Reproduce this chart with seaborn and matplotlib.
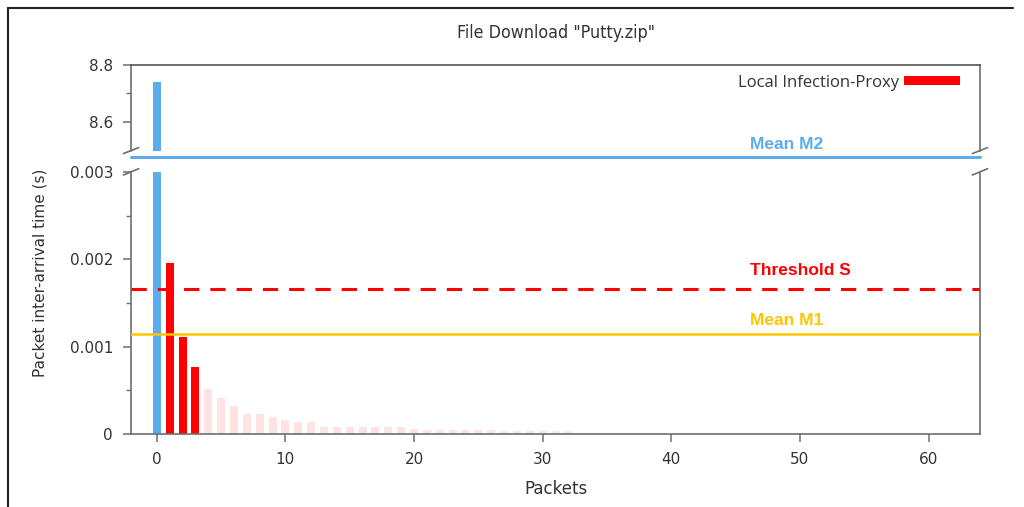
import matplotlib
matplotlib.use("Agg")
import matplotlib.pyplot as plt
import pandas as pd
import seaborn as sns
from matplotlib.patches import Patch
from matplotlib.lines import Line2D

# ---------------- data ----------------
packets = list(range(0, 33))
inter_arrival = [
    8.74, 0.00196, 0.00111, 0.00077, 0.00051, 0.00041, 0.00032, 0.00023,
    0.00023, 0.00019, 0.000165, 0.00014, 0.00014, 0.000085, 0.000085, 0.000085,
    0.000085, 0.000085, 0.000085, 0.000085, 0.00006, 0.00004, 0.00004, 0.00004,
    0.00004, 0.00004, 0.00004, 0.00003, 0.00003, 0.00003, 0.00003, 0.00003,
    0.00003,
]
groups = ["First"] + ["Local Infection-Proxy"] * 3 + ["Rest"] * 29
group_colors = {"First": "#5DADEC", "Local Infection-Proxy": "#FF0000", "Rest": "#FFE2E2"}

mean_m2 = 8.477
threshold_s = 0.00166
mean_m1 = 0.00115
line_labels = ["Mean M2", "Threshold S", "Mean M1"]
label_x = 46.1

title = 'File Download "Putty.zip"'
xlabel = "Packets"
ylabel = "Packet inter-arrival time (s)"
legend_label = "Local Infection-Proxy"

top_ylim = (8.5, 8.8)
top_yticks = [8.6, 8.8]
bottom_ylim = (0, 0.003)
bottom_yticks = [0, 0.001, 0.002, 0.003]
bottom_yticklabels = ["0", "0.001", "0.002", "0.003"]
xticks = [0, 10, 20, 30, 40, 50, 60]
xlim = (-2, 64)

df = pd.DataFrame({"packet": packets, "iat": inter_arrival, "group": groups})

# ---------------- style ----------------
sns.set_style("ticks")
plt.rcParams["font.family"] = ["DejaVu Sans"]
spine_col = "#6e6e6e"
text_col = "#333333"

fig = plt.figure(figsize=(10.24, 5.07), dpi=100)
L, R = 0.128, 0.957
ax_top = fig.add_axes([L, 0.703, R - L, 0.872 - 0.703])
ax_bot = fig.add_axes([L, 0.144, R - L, 0.661 - 0.144])

for ax in (ax_top, ax_bot):
    sns.barplot(data=df, x="packet", y="iat", hue="group", palette=group_colors,
                native_scale=True, dodge=False, width=0.62, saturation=1,
                errorbar=None, legend=False, linewidth=0, ax=ax, zorder=2)
    ax.set_xlim(*xlim)
    for s in ax.spines.values():
        s.set_color(spine_col)
        s.set_linewidth(1.2)
    ax.tick_params(colors=spine_col, labelcolor=text_col, labelsize=11,
                   direction="out", length=6, width=1.1, pad=7)
    ax.tick_params(which="minor", colors=spine_col, direction="out", length=3.5, width=1.0)
    ax.set_xlabel("")
    ax.set_ylabel("")

# top panel
ax_top.set_ylim(*top_ylim)
ax_top.set_yticks(top_yticks)
ax_top.set_yticks([8.7], minor=True)
ax_top.set_xticks([])
ax_top.spines["bottom"].set_visible(False)
ax_top.spines["top"].set_color("#555555")
ax_top.tick_params(axis="x", which="both", bottom=False, labelbottom=False)

# bottom panel
ax_bot.set_ylim(*bottom_ylim)
ax_bot.set_yticks(bottom_yticks)
ax_bot.set_yticklabels(bottom_yticklabels)
ax_bot.set_yticks([0.0005, 0.0015, 0.0025], minor=True)
ax_bot.set_xticks(xticks)
ax_bot.set_xticklabels([str(t) for t in xticks])
ax_bot.spines["top"].set_visible(False)

# reference lines
ax_top.axhline(mean_m2, color="#5DADEC", lw=2.2, clip_on=False, zorder=3)
ax_bot.axhline(threshold_s, color="#FF0000", lw=2.2, dashes=(5, 3.6), zorder=3)
ax_bot.axhline(mean_m1, color="#FFC600", lw=1.8, zorder=3)

lab_kw = dict(textcoords="offset points", ha="left", va="center", fontsize=12.5,
              fontweight="bold", family="Liberation Sans")
ax_top.annotate(line_labels[0], xy=(label_x, mean_m2), xytext=(0, 9.4),
                color="#5DADEC", annotation_clip=False, **lab_kw)
ax_bot.annotate(line_labels[1], xy=(label_x, threshold_s), xytext=(0, 13.3),
                color="#FF0000", **lab_kw)
ax_bot.annotate(line_labels[2], xy=(label_x, mean_m1), xytext=(0, 9.4),
                color="#FFC600", **lab_kw)

# break marks
dx = 0.009
for ax, dy, ypos in ((ax_top, 0.035, 0.0), (ax_bot, 0.012, 1.0)):
    for xpos in (0.0, 1.0):
        ax.plot([xpos - dx, xpos + dx], [ypos - dy, ypos + dy], transform=ax.transAxes,
                color=spine_col, lw=1.2, clip_on=False, zorder=5)

# legend
ax_top.legend(handles=[Patch(facecolor="#FF0000", edgecolor="none")], labels=[legend_label],
              loc="upper right", bbox_to_anchor=(1.0024, 1.14), frameon=False, markerfirst=False,
              handlelength=3.4, handleheight=0.5, handletextpad=0.3,
              labelcolor=text_col, borderaxespad=0.9,
              prop={"family": "Open Sans", "size": 12})

# titles / labels
xc = (L + R) / 2
fig.text(xc, 0.935, title, ha="center", va="center", fontsize=12.8, color=text_col,
         fontstretch="condensed")
fig.text(xc, 0.035, xlabel, ha="center", va="center", fontsize=12, color=text_col)
fig.text(0.039, 0.461, ylabel, ha="center", va="center", rotation=90, fontsize=11, color=text_col)

# outer frame (top and left edges of the screenshot)
fig.add_artist(Line2D([0.008, 0.989], [0.984, 0.984], transform=fig.transFigure, color="#222222", lw=1.5))
fig.add_artist(Line2D([0.008, 0.008], [0.0, 0.984], transform=fig.transFigure, color="#222222", lw=1.5))

fig.savefig("out.png", dpi=100)
